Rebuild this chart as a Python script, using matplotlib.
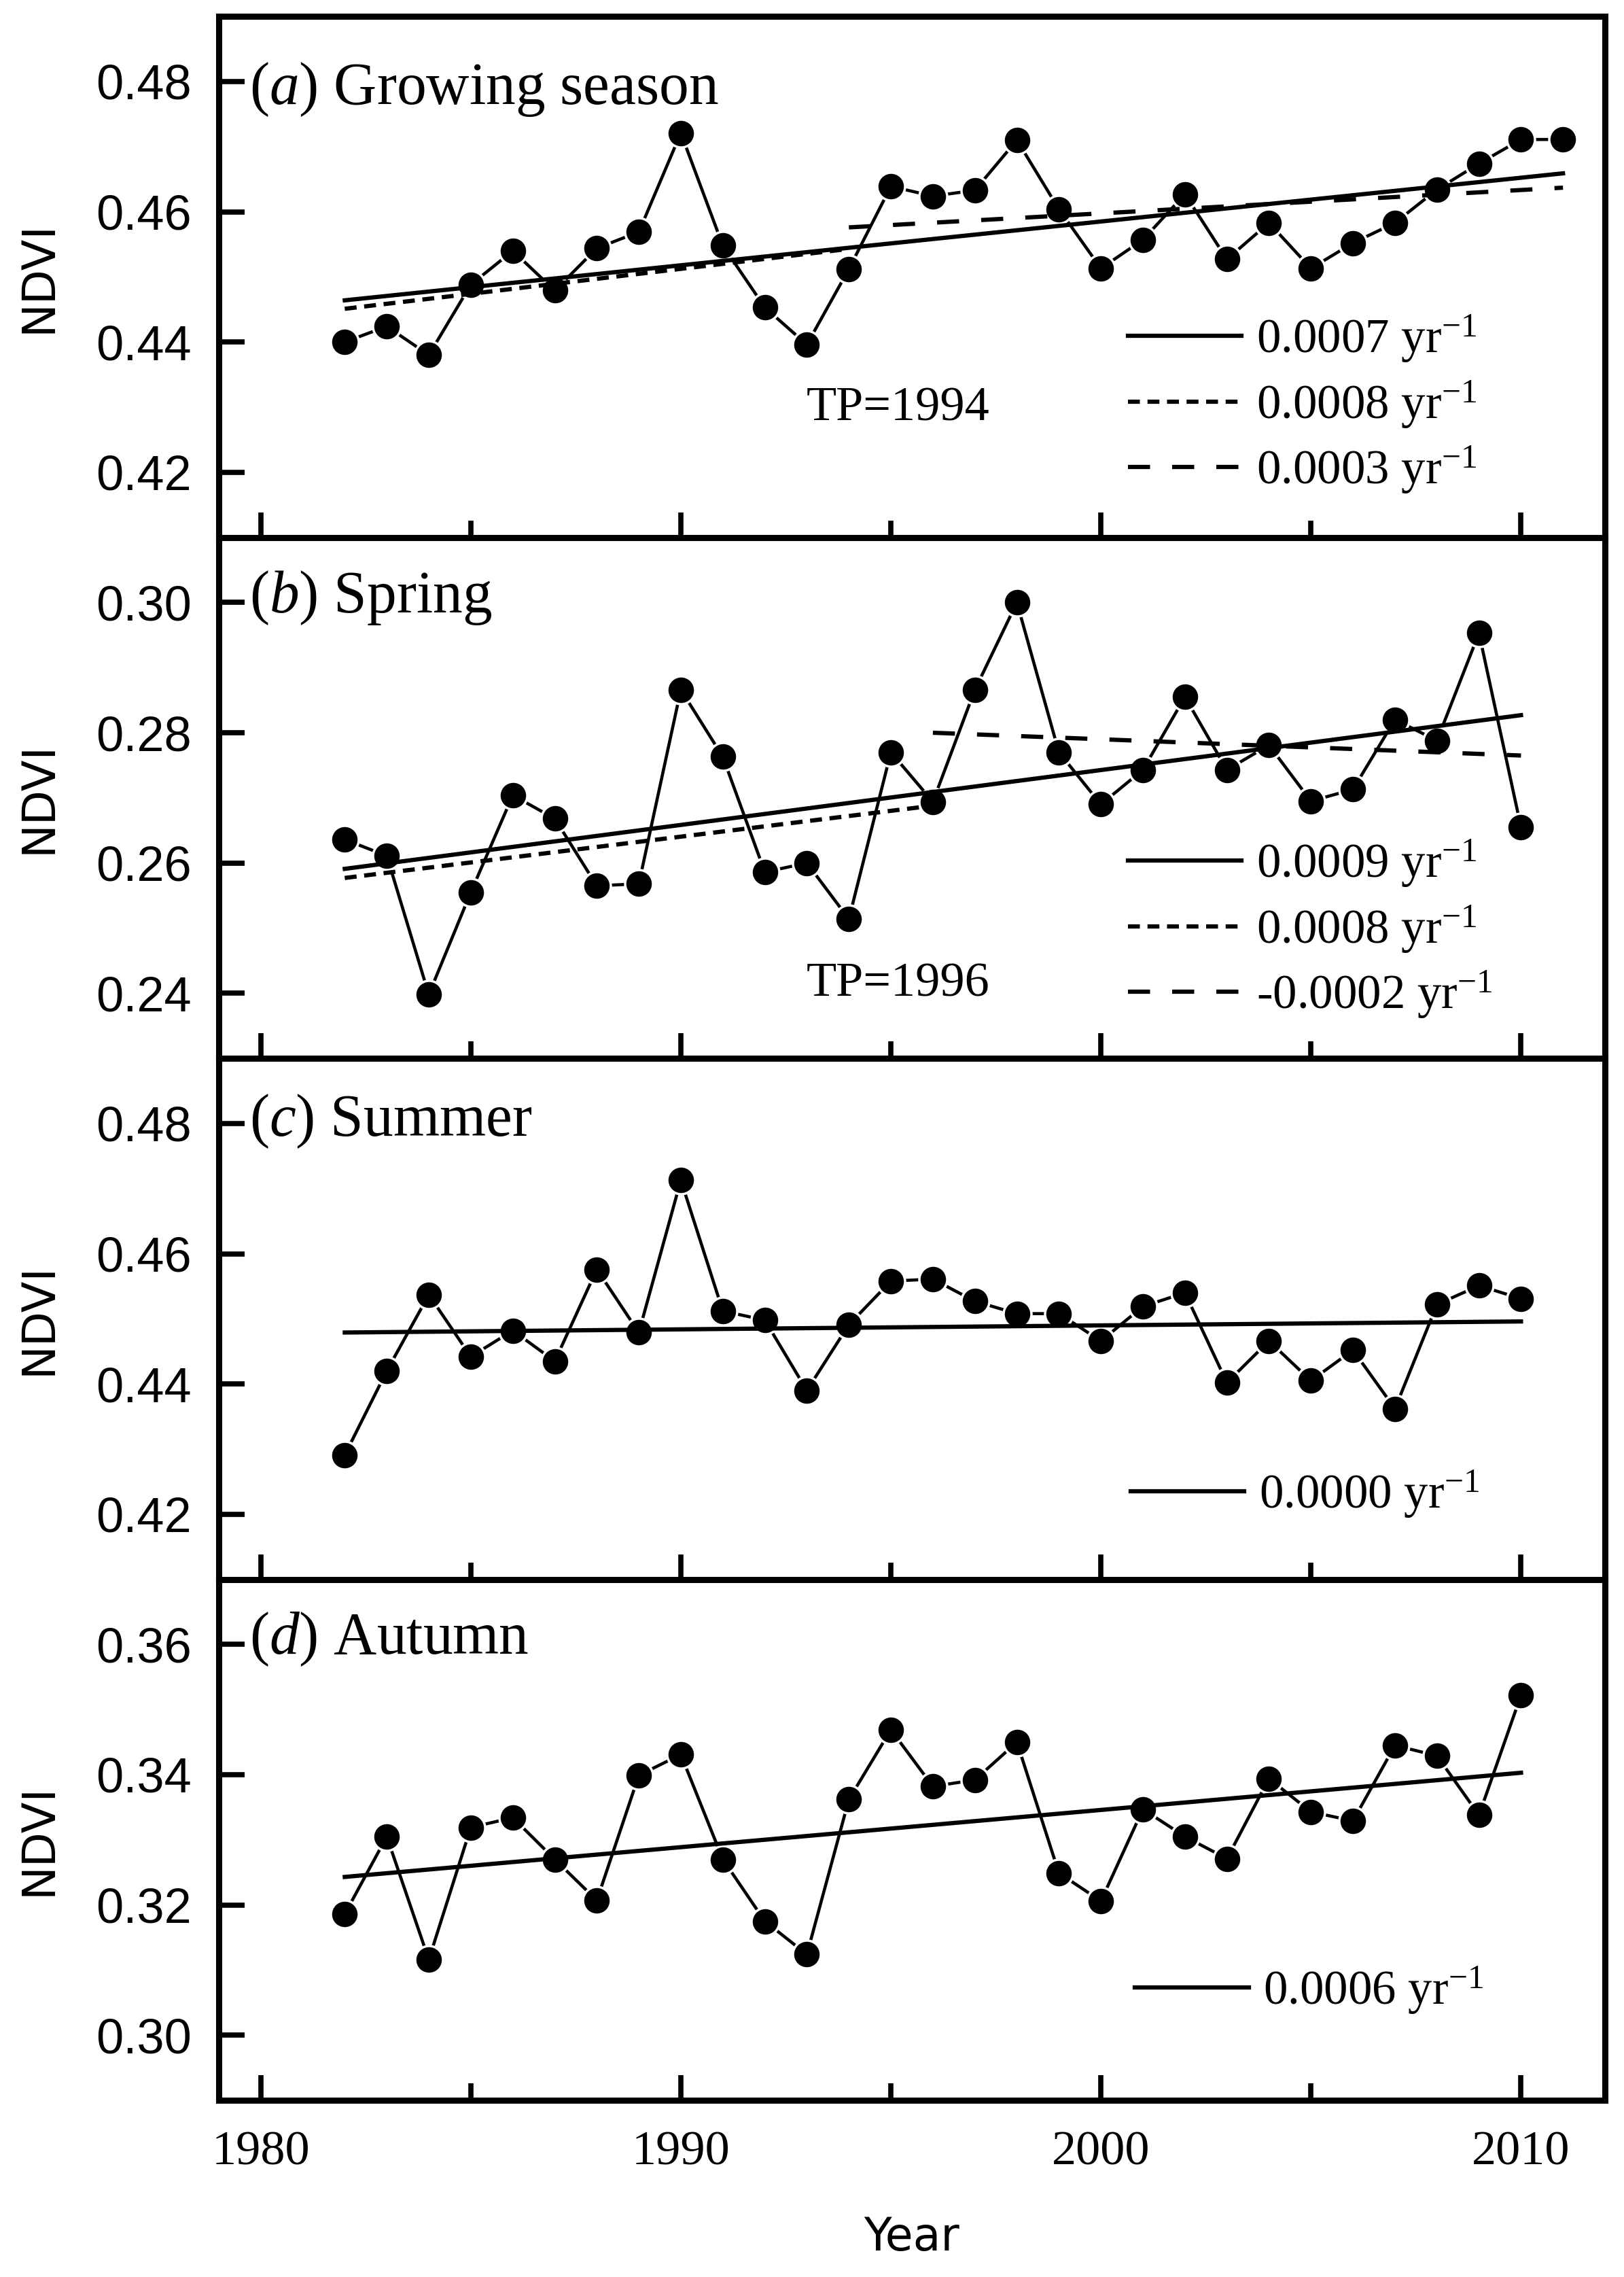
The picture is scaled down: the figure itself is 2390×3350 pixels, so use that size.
import numpy as np
import matplotlib
matplotlib.use('Agg')
import matplotlib.pyplot as plt
from matplotlib.ticker import MultipleLocator

plt.rcParams['mathtext.fontset'] = 'custom'
plt.rcParams['mathtext.rm'] = 'Liberation Serif'
plt.rcParams['mathtext.it'] = 'Liberation Serif:italic'

# NDVI series
years_grow = np.arange(1982, 2012)
years = np.arange(1982, 2011)

ndvi_grow = [0.4400, 0.4424, 0.4380, 0.4488, 0.4540, 0.4479, 0.4544, 0.4569, 0.4721, 0.4548,
             0.4453, 0.4396, 0.4512, 0.4639, 0.4624, 0.4633, 0.4710, 0.4604, 0.4513, 0.4557,
             0.4627, 0.4527, 0.4583, 0.4513, 0.4552, 0.4583, 0.4634, 0.4674, 0.4711, 0.4711]
ndvi_spring = [0.2636, 0.2611, 0.2398, 0.2555, 0.2704, 0.2668, 0.2565, 0.2568, 0.2866, 0.2763,
               0.2586, 0.2600, 0.2514, 0.2770, 0.2694, 0.2866, 0.3000, 0.2770, 0.2690, 0.2743,
               0.2855, 0.2743, 0.2781, 0.2695, 0.2713, 0.2820, 0.2788, 0.2953, 0.2655]
ndvi_summer = [0.4291, 0.4420, 0.4537, 0.4442, 0.4482, 0.4435, 0.4576, 0.4479, 0.4713, 0.4512,
               0.4498, 0.4390, 0.4491, 0.4558, 0.4561, 0.4527, 0.4508, 0.4508, 0.4466, 0.4519,
               0.4540, 0.4402, 0.4466, 0.4405, 0.4452, 0.4362, 0.4522, 0.4551, 0.4531]
ndvi_autumn = [0.3186, 0.3305, 0.3116, 0.3319, 0.3334, 0.3270, 0.3207, 0.3399, 0.3431, 0.3270,
               0.3175, 0.3124, 0.3362, 0.3469, 0.3382, 0.3392, 0.3450, 0.3249, 0.3206, 0.3347,
               0.3305, 0.3271, 0.3394, 0.3343, 0.3329, 0.3445, 0.3429, 0.3338, 0.3522]

# trend lines (end points), labels = slopes
grow_trends = [([1982, 2011], [0.4464, 0.4659], '0.0007'),
               ([1982, 1994], [0.4451, 0.4543], '0.0008'),
               ([1994, 2011], [0.4576, 0.4637], '0.0003')]
spring_trends = [([1982, 2010], [0.2591, 0.2827], '0.0009'),
                 ([1982, 1996], [0.2577, 0.2688], '0.0008'),
                 ([1996, 2010], [0.2800, 0.2765], '-0.0002')]
summer_trends = [([1982, 2010], [0.4479, 0.4496], '0.0000')]
autumn_trends = [([1982, 2010], [0.3243, 0.3403], '0.0006')]

titles = ['a', 'b', 'c', 'd']
names = ['Growing season', 'Spring', 'Summer', 'Autumn']
ylims = [(0.41, 0.49), (0.23, 0.31), (0.41, 0.49), (0.29, 0.37)]
yticks = [[0.42, 0.44, 0.46, 0.48], [0.24, 0.26, 0.28, 0.30],
          [0.42, 0.44, 0.46, 0.48], [0.30, 0.32, 0.34, 0.36]]
tp_labels = ['TP=1994', 'TP=1996', None, None]

series = [(years_grow, ndvi_grow, grow_trends),
          (years, ndvi_spring, spring_trends),
          (years, ndvi_summer, summer_trends),
          (years, ndvi_autumn, autumn_trends)]

styles = ['-', (0, (2.8, 1.8)), (0, (5.2, 5.2))]
title_y = [0.86, 0.884, 0.879, 0.885]
leg_pos = [(0.656, 0.255), (0.656, 0.248), (0.658, 0.163), (0.661, 0.211)]
tp_pos = [(0.49, 0.248), (0.49, 0.142)]

fig = plt.figure(figsize=(23.9, 33.5), dpi=100)
axs = fig.subplots(4, 1, sharex=True, gridspec_kw=dict(hspace=0))
fig.subplots_adjust(left=0.1347, right=0.9883, bottom=0.0776, top=0.9928)

for i, ax in enumerate(axs):
    x, y, trends = series[i]
    ax.plot(x, y, '-', color='black', lw=3.3, zorder=2)
    ax.plot(x, y, 'o', color='black', ms=29.5, mec='white', mew=2.5, zorder=3)
    handles = []
    for k, (tx, ty, slope) in enumerate(trends):
        h, = ax.plot(tx, ty, color='black', lw=4.5, linestyle=styles[k], zorder=4,
                     label=slope + r' yr$^{-1}$')
        handles.append(h)
    ax.legend(handles=handles, loc='center left', bbox_to_anchor=leg_pos[i],
              frameon=False, borderpad=0, borderaxespad=0, handlelength=2.36,
              handletextpad=0.3, labelspacing=0.3,
              prop={'family': 'Liberation Serif', 'size': 51})

    ax.text(0.022, title_y[i], r'($\mathit{%s}$) %s' % (titles[i], names[i]),
            transform=ax.transAxes, va='center', ha='left',
            fontsize=63, family='Liberation Serif')
    if tp_labels[i]:
        ax.text(tp_pos[i][0], tp_pos[i][1], tp_labels[i], transform=ax.transAxes,
                ha='center', va='center', fontsize=52, family='Liberation Serif')

    ax.set_xlim(1979, 2012)
    ax.set_ylim(*ylims[i])
    ax.set_yticks(yticks[i])
    ax.set_yticklabels(['%.2f' % v for v in yticks[i]], family='Liberation Sans', fontsize=52)
    ax.xaxis.set_major_locator(MultipleLocator(10))
    ax.xaxis.set_minor_locator(MultipleLocator(5))
    ax.tick_params(axis='both', which='major', direction='in', width=5.5, length=27,
                   top=False, right=False)
    ax.tick_params(axis='x', which='minor', direction='in', width=5.5, length=18, top=False)
    ax.tick_params(axis='y', which='major', pad=29)
    ax.tick_params(axis='x', which='major', pad=32, labelbottom=(i == 3))
    for sp in ax.spines.values():
        sp.set_linewidth(6.5)
    ax.set_ylabel('NDVI', fontsize=48, family='DejaVu Sans')
    ax.yaxis.set_label_coords(-0.114, 0.5)

for lbl in axs[3].get_xticklabels():
    lbl.set_fontfamily('Liberation Serif')
    lbl.set_fontsize(52)
axs[3].set_xlabel('Year', fontsize=48, family='DejaVu Sans')
axs[3].xaxis.set_label_coords(0.5, -0.22)

fig.savefig('out.png', dpi=100)
